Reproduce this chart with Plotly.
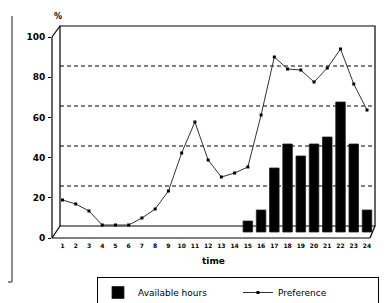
import plotly.graph_objects as go

# ---- data ----
hours = list(range(1, 25))
preference = [16, 14, 10.5, 3.5, 3.5, 3.5, 7, 11.5, 20.5, 39.5, 55, 36, 27.5, 29.5, 32.5,
              58.5, 87.5, 81.5, 81, 75, 82, 91.5, 74, 61]
available = [None] * 14 + [5.5, 11, 32, 44, 38, 44, 47.5, 65, 44, 11]
y_ticks = [0, 20, 40, 60, 80, 100]
grid_vals = [20, 40, 60, 80]

# ---- layout geometry (page pixels; the html body adds an 8px margin) ----
OFF = 8
W, H = 390 - OFF, 303 - OFF
PX0, PX1 = 52, 375        # plot area left/right (page px)
PY0, PY1 = 26, 238        # plot area top/bottom (page px)
L, R = PX0 - OFF, W - (PX1 - OFF)
T, B = PY0 - OFF, H - (PY1 - OFF)
PW, PH = PX1 - PX0, PY1 - PY0
FONT = "DejaVu Sans, Liberation Sans, Arial, sans-serif"


def px(x):
    return (x - PX0) / PW


def py(y):
    return (PY1 - y) / PH


DX = px(60)               # depth offset of pseudo-3D box
DY = py(226)
BACK_OFFSET = 3           # back wall floor above bar floor (data units)

fig = go.Figure()
fig.add_trace(go.Bar(
    x=hours, y=available, name="Available hours", width=0.72,
    marker=dict(color="black", line=dict(color="#222", width=0.8)),
))
fig.add_trace(go.Scatter(
    x=hours, y=preference, name="Preference", mode="lines+markers",
    line=dict(color="#333", width=1),
    marker=dict(symbol="square", size=3, color="black"),
))
# dummy trace for label axis
fig.add_trace(go.Scatter(x=[None], y=[None], yaxis="y2", showlegend=False, hoverinfo="skip"))

shapes = []
frame = dict(type="line", xref="paper", yref="paper", line=dict(color="black", width=1.2))
# back wall
shapes.append(dict(type="rect", xref="paper", yref="paper", x0=DX, x1=1, y0=DY, y1=1,
                   line=dict(color="black", width=1.2), layer="below"))
# left side wall
shapes.append({**frame, "x0": 0, "x1": 0, "y0": 0, "y1": py(37)})
shapes.append({**frame, "x0": 0, "x1": DX, "y0": py(37), "y1": 1})
shapes.append({**frame, "x0": 0, "x1": DX, "y0": 0, "y1": DY})
# floor
shapes.append({**frame, "x0": 0, "x1": px(370), "y0": 0, "y1": 0})
shapes.append({**frame, "x0": px(370), "x1": 1, "y0": 0, "y1": DY})
# dashed gridlines on back wall
for g in grid_vals:
    shapes.append(dict(type="line", xref="paper", yref="y", x0=DX, x1=1,
                       y0=g + BACK_OFFSET, y1=g + BACK_OFFSET, layer="below",
                       line=dict(color="black", width=1, dash="4px,3px")))
# scan edge of neighbouring figure
shapes.append(dict(type="line", xref="paper", yref="paper", x0=px(12), x1=px(12),
                   y0=py(282), y1=py(16), line=dict(color="#444", width=1.2)))
shapes.append(dict(type="line", xref="paper", yref="paper", x0=px(8), x1=px(12),
                   y0=py(282), y1=py(282), line=dict(color="#444", width=1.2)))

fig.update_layout(
    width=W, height=H,
    margin=dict(l=L, r=R, t=T, b=B, pad=0, autoexpand=False),
    paper_bgcolor="white", plot_bgcolor="white",
    font=dict(family=FONT, color="black"),
    shapes=shapes,
    showlegend=True,
    legend=dict(orientation="h", x=px(97), xanchor="left", y=py(277), yanchor="top",
                bordercolor="black", borderwidth=1, font=dict(size=9),
                entrywidth=95, itemwidth=30, bgcolor="white"),
    bargap=0.2,
    xaxis=dict(range=[1 - 10.5 / 13.24, 24 + 8 / 13.24], tickvals=hours,
               ticktext=[f"<b>{h}</b>" for h in hours],
               tickfont=dict(size=6), showgrid=False, zeroline=False, showline=False,
               ticks="", ticklabelstandoff=3, automargin=False,
               title=dict(text="<b>time</b>", font=dict(size=9), standoff=9)),
    yaxis=dict(range=[-3, (232 - PY0) / 2], showgrid=False, zeroline=False,
               showticklabels=False, showline=False, automargin=False),
    yaxis2=dict(range=[0, PH / 2.01], overlaying="y", side="left", tickvals=y_ticks,
                ticktext=[f"<b>{v}</b>" for v in y_ticks], automargin=False,
                showgrid=False, zeroline=False, showline=False, ticks="outside", ticklen=3,
                tickcolor="black", tickfont=dict(size=9), ticklabelstandoff=1),
    annotations=[dict(text="<b>%</b>", xref="paper", yref="paper", x=px(58), y=py(17),
                      showarrow=False, font=dict(size=8), xanchor="center", yanchor="middle")],
)

fig.write_html("out.html")
